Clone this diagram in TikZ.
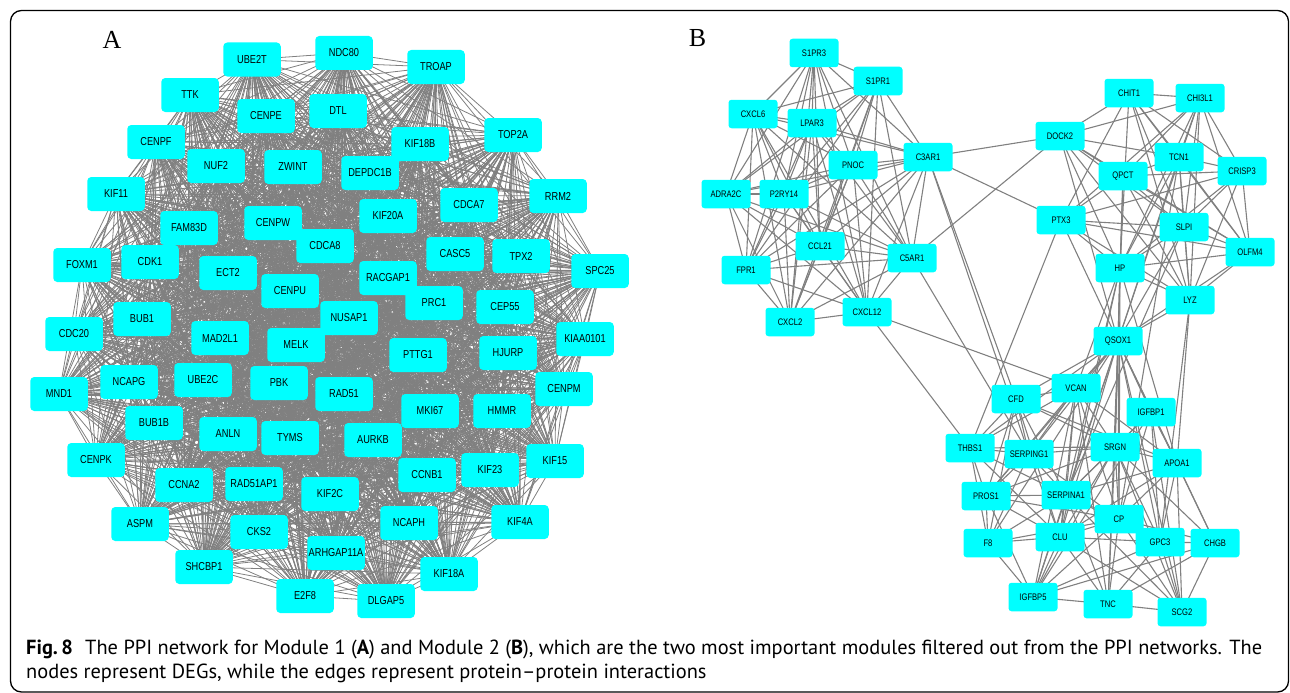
\documentclass[tikz,border=0pt]{standalone}
\usepackage{fontspec}
\setmainfont{Liberation Serif}
\newfontfamily\nodefont{Liberation Sans}[FakeStretch=0.8]
\newfontfamily\capfont{PT Sans}[Ligatures=TeX]
\usepackage{graphicx}
\definecolor{nodecyan}{RGB}{0,255,255}
\definecolor{edgegray}{RGB}{128,128,128}
\definecolor{captext}{RGB}{35,31,32}
\pgfdeclarelayer{bg}
\pgfsetlayers{bg,main}
\newsavebox\capone
\newsavebox\captwo
\newlength\capwd
\begin{document}
\sbox\capone{\capfont\fontsize{17}{20}\selectfont\textbf{Fig.\,8}\hspace{0.6em}The PPI network for Module 1 (\textbf{A}) and Module 2 (\textbf{B}), which are the two most important modules filtered out from the PPI networks. The}%
\sbox\captwo{\capfont\fontsize{17}{20}\selectfont nodes represent DEGs, while the edges represent protein–protein interactions}%
\setlength\capwd{\wd\capone}%
\pgfmathsetmacro\capscale{1236/\capwd}%
\begin{tikzpicture}[x=1pt,y=-1pt,
  an/.style={fill=nodecyan, rounded corners=4pt, minimum width=57.5pt, minimum height=34pt, inner sep=0pt, font=\nodefont\fontsize{11.5}{12}\selectfont},
  bn/.style={fill=nodecyan, rounded corners=3pt, minimum width=49pt, minimum height=28.5pt, inner sep=0pt, font=\nodefont\fontsize{9.5}{10}\selectfont},
  ae/.style={draw=edgegray, line width=0.8pt},
  be/.style={draw=edgegray, line width=1.1pt},
  plabel/.style={inner sep=0pt, font=\fontsize{26}{30}\selectfont},
  capnode/.style={anchor=base west, inner sep=0pt, text=captext},
  frame/.style={draw=black, line width=1.3pt, rounded corners=11pt}]
\useasboundingbox (0,0) rectangle (1290,693);
\draw[frame] (10.5,10.5) rectangle (1288.5,692);
% ---------------- Panel A ----------------
\node[plabel] (labA) at (112,40) {A};
\foreach \n/\x/\y in {UBE2T/252/59.5, NDC80/344/53, TROAP/436/67, TTK/190/95, CENPE/266/116, DTL/338/111,
 CENPF/156/142, NUF2/216/166, ZWINT/293/167, KIF18B/420/144, TOP2A/513/135, DEPDC1B/370/173,
 KIF11/116/194, FAM83D/189/228, CENPW/273/223, KIF20A/388/216, CDCA7/469/205, RRM2/558/196,
 CDCA8/325/246, FOXM1/82/265, CDK1/150/262, ECT2/228/273, CENPU/290/291, RACGAP1/388/278,
 CASC5/455/254, TPX2/521/256, SPC25/600/271, PRC1/434/303, CEP55/505/307, BUB1/142/319,
 NUSAP1/349/318, CDC20/74/334, MAD2L1/220/338, MELK/296/345, PTTG1/418/355, HJURP/508/353,
 KIAA0101/585/339, NCAPG/129/382, UBE2C/203/380, PBK/279/383, RAD51/344/394, MND1/59/394,
 CENPM/564/389, BUB1B/154/423, ANLN/228/434, TYMS/290/438, AURKB/373/440, MKI67/430/411,
 HMMR/502/411, CENPK/96/460, KIF15/555/461, KIF23/490/470, CCNB1/427/475, CCNA2/184/485,
 RAD51AP1/254/484, KIF2C/330/494, ASPM/140/524, CKS2/259/532, NCAPH/409/523, KIF4A/520/522,
 ARHGAP11A/336/553, SHCBP1/204/567, E2F8/305/596, DLGAP5/386/601, KIF18A/449/574}
  {\node[an] (\n) at (\x,\y) {\n};}
\def\Alist{UBE2T,NDC80,TROAP,TTK,CENPE,DTL,CENPF,NUF2,ZWINT,KIF18B,TOP2A,DEPDC1B,KIF11,FAM83D,CENPW,KIF20A,CDCA7,RRM2,CDCA8,FOXM1,CDK1,ECT2,CENPU,RACGAP1,CASC5,TPX2,SPC25,PRC1,CEP55,BUB1,NUSAP1,CDC20,MAD2L1,MELK,PTTG1,HJURP,KIAA0101,NCAPG,UBE2C,PBK,RAD51,MND1,CENPM,BUB1B,ANLN,TYMS,AURKB,MKI67,HMMR,CENPK,KIF15,KIF23,CCNB1,CCNA2,RAD51AP1,KIF2C,ASPM,CKS2,NCAPH,KIF4A,ARHGAP11A,SHCBP1,E2F8,DLGAP5,KIF18A}
\begin{pgfonlayer}{bg}
\foreach \a [count=\i] in \Alist {
  \foreach \b [count=\j] in \Alist {
    \ifnum\j>\i \draw[ae] (\a.center) -- (\b.center);\fi
  }
}
\end{pgfonlayer}
% ---------------- Panel B ----------------
\node[plabel] (labB) at (697.5,38) {B};
\foreach \n/\x/\y in {S1PR3/814/53, S1PR1/878/81, CXCL6/753/114, LPAR3/812/123, PNOC/853/165, C3AR1/928/157,
 ADRA2C/726/194, P2RY14/784/194, CCL21/820/246, C5AR1/912/258, FPR1/746/270, CXCL12/867/312, CXCL2/790/322,
 CHIT1/1129/93, CHI3L1/1200/98, DOCK2/1060/136, TCN1/1179/157, QPCT/1123/176, CRISP3/1242/171,
 PTX3/1061/220, SLPI/1184/227, OLFM4/1250/252, HP/1120/268, LYZ/1190/300, QSOX1/1118/341,
 VCAN/1076/388, CFD/1016/399, IGFBP1/1151/412, THBS1/970/448, SERPING1/1029/454, SRGN/1115/447,
 APOA1/1177/463, PROS1/986/496, SERPINA1/1066/495, CP/1119/519, F8/988/543, CLU/1060/537,
 GPC3/1160/542, CHGB/1215/543, IGFBP5/1033/597, TNC/1108/604, SCG2/1182/612}
  {\node[bn] (\n) at (\x,\y) {\n};}
\def\Blist{S1PR3,S1PR1,CXCL6,LPAR3,PNOC,C3AR1,ADRA2C,P2RY14,CCL21,C5AR1,FPR1,CXCL12,CXCL2}
\begin{pgfonlayer}{bg}
\foreach \a [count=\i] in \Blist {
  \foreach \b [count=\j] in \Blist {
    \ifnum\j>\i \draw[be] (\a.center) -- (\b.center);\fi
  }
}
\foreach \a/\b in {C3AR1/DOCK2, C5AR1/DOCK2, C3AR1/PTX3, C3AR1/CFD, C3AR1/SERPING1, C5AR1/SERPING1,
 CXCL12/VCAN, CXCL12/THBS1, PTX3/THBS1,
 CHIT1/CHI3L1, CHIT1/DOCK2, CHI3L1/DOCK2, DOCK2/TCN1, DOCK2/QPCT, DOCK2/SLPI, DOCK2/HP, DOCK2/LYZ, DOCK2/QSOX1, DOCK2/OLFM4,
 CHIT1/TCN1, CHIT1/CRISP3, CHIT1/SLPI, CHIT1/HP, CHIT1/PTX3, CHIT1/LYZ, CHIT1/OLFM4,
 CHI3L1/QPCT, CHI3L1/TCN1, CHI3L1/CRISP3, CHI3L1/SLPI, CHI3L1/HP, CHI3L1/PTX3, CHI3L1/LYZ, CHI3L1/OLFM4, CHI3L1/QSOX1,
 TCN1/CRISP3, TCN1/QPCT, TCN1/HP, TCN1/LYZ, TCN1/OLFM4, TCN1/SLPI, TCN1/QSOX1,
 QPCT/CRISP3, QPCT/HP, QPCT/SLPI, QPCT/LYZ, QPCT/PTX3, QPCT/OLFM4,
 CRISP3/SLPI, CRISP3/OLFM4, CRISP3/HP, CRISP3/LYZ, CRISP3/PTX3,
 PTX3/SLPI, PTX3/OLFM4, PTX3/HP, PTX3/LYZ, PTX3/QSOX1,
 SLPI/OLFM4, SLPI/HP, SLPI/LYZ, SLPI/QSOX1, OLFM4/HP, OLFM4/LYZ, OLFM4/QSOX1, HP/LYZ, HP/QSOX1, LYZ/QSOX1,
 HP/SRGN, HP/CP, HP/SERPINA1, HP/CLU, HP/VCAN, HP/APOA1, LYZ/APOA1, LYZ/GPC3, QPCT/SRGN, SLPI/SERPINA1, TCN1/CP,
 QSOX1/VCAN, QSOX1/CFD, QSOX1/SRGN, QSOX1/IGFBP1, QSOX1/APOA1, QSOX1/SERPINA1, QSOX1/CP, QSOX1/GPC3, QSOX1/CHGB,
 QSOX1/SCG2, QSOX1/TNC, QSOX1/CLU, QSOX1/SERPING1, QSOX1/PROS1, QSOX1/THBS1, QSOX1/F8, QSOX1/IGFBP5,
 VCAN/CFD, VCAN/SERPING1, VCAN/SRGN, VCAN/SERPINA1, VCAN/CP, VCAN/CLU, VCAN/THBS1, VCAN/PROS1, VCAN/APOA1, VCAN/TNC, VCAN/IGFBP5,
 CFD/THBS1, CFD/SERPING1, CFD/SRGN, CFD/PROS1, CFD/F8, CFD/SERPINA1, CFD/CLU, CFD/APOA1,
 IGFBP1/SRGN, IGFBP1/APOA1, IGFBP1/CP, IGFBP1/SERPINA1, IGFBP1/IGFBP5, IGFBP1/SCG2, IGFBP1/GPC3,
 THBS1/SERPING1, THBS1/PROS1, THBS1/F8, THBS1/SERPINA1, THBS1/CLU, THBS1/SRGN,
 SERPING1/SRGN, SERPING1/PROS1, SERPING1/SERPINA1, SERPING1/F8, SERPING1/CLU, SERPING1/CP,
 SRGN/APOA1, SRGN/SERPINA1, SRGN/CP, SRGN/GPC3, SRGN/CHGB, SRGN/TNC, SRGN/SCG2, SRGN/CLU, SRGN/PROS1, SRGN/IGFBP5,
 APOA1/CP, APOA1/GPC3, APOA1/CHGB, APOA1/SCG2, APOA1/SERPINA1, APOA1/CLU,
 PROS1/SERPINA1, PROS1/F8, PROS1/CLU, PROS1/CP, PROS1/IGFBP5,
 SERPINA1/CP, SERPINA1/CLU, SERPINA1/F8, SERPINA1/IGFBP5, SERPINA1/TNC, SERPINA1/GPC3, SERPINA1/SCG2,
 CP/GPC3, CP/CLU, CP/F8, CP/IGFBP5, CP/TNC, CP/SCG2, CP/CHGB,
 F8/CLU, F8/IGFBP5, CLU/IGFBP5, CLU/TNC, CLU/GPC3, CLU/SCG2,
 GPC3/CHGB, GPC3/SCG2, GPC3/TNC, GPC3/IGFBP5, CHGB/SCG2, CHGB/TNC, CHGB/IGFBP5, IGFBP5/TNC, TNC/SCG2}
  {\draw[be] (\a.center) -- (\b.center);}
\end{pgfonlayer}
% ---------------- Caption ----------------
\node[capnode] (cap1) at (26,654) {\scalebox{\capscale}{\usebox\capone}};
\node[capnode] (cap2) at (26,678) {\scalebox{\capscale}{\usebox\captwo}};
\end{tikzpicture}
\end{document}
